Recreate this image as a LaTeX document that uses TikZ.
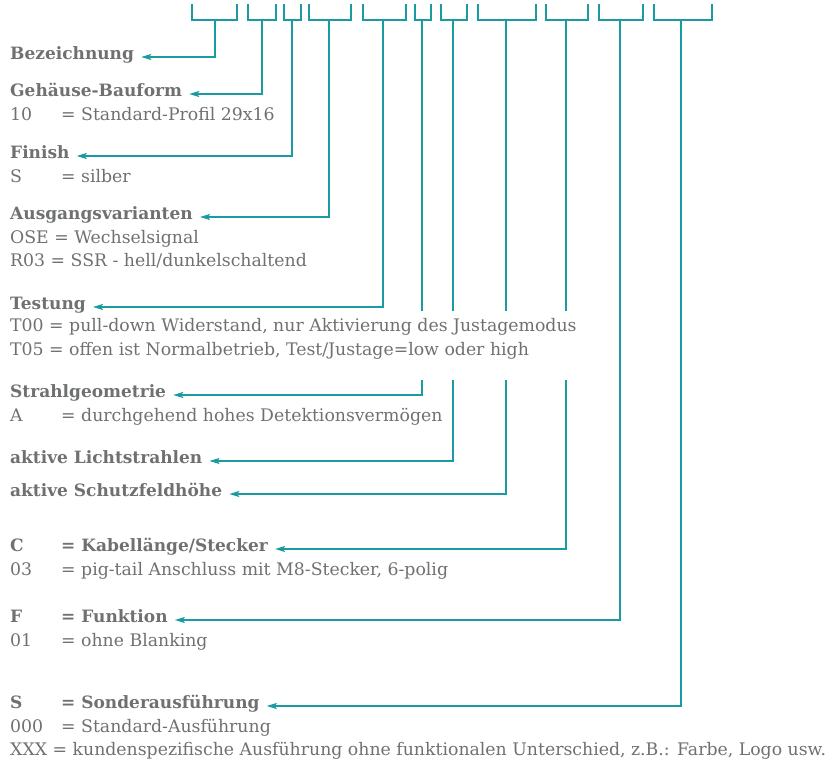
\documentclass[tikz,border=0pt]{standalone}
\usepackage{fontspec}
\setmainfont{DejaVu Serif}
\usetikzlibrary{arrows.meta}

\definecolor{linecol}{HTML}{1A9BA1}
\definecolor{textgray}{HTML}{6E7170}

\tikzset{
  bracket/.style={draw=linecol, line width=1.6pt},
  arr/.style={bracket, -{Stealth[length=10pt,width=6pt,inset=2pt]}, shorten >=7pt},
  txt/.style={anchor=west, inner sep=0pt, text=textgray, text height=1ex, text depth=0pt,
    font=\fontsize{17.3}{22}\selectfont},
  head/.style={txt, font=\fontsize{17}{22}\selectfont\bfseries},
}
\newcommand\codebox[1]{\makebox[51pt][l]{#1}}

\begin{document}
\begin{tikzpicture}[x=1pt,y=-1pt]
  \useasboundingbox (0,0) rectangle (828,765);
  % headings
  \node[head] (bez) at (10,57) {Bezeichnung};
  \node[head] (geh) at (10,94) {Gehäuse-Bauform};
  \node[head] (fin) at (10,156) {Finish};
  \node[head] (aus) at (10,217) {Ausgangsvarianten};
  \node[head] (tst) at (10,307) {Testung};
  \node[head] (str) at (10,395) {Strahlgeometrie};
  \node[head] (lic) at (10,461) {aktive Lichtstrahlen};
  \node[head] (sfh) at (10,494) {aktive Schutzfeldhöhe};
  \node[head] (kab) at (10,549) {\codebox{C}= Kabellänge/Stecker};
  \node[head] (fkt) at (10,620) {\codebox{F}= Funktion};
  \node[head] (son) at (10,706) {\codebox{S}= Sonderausführung};
  % brackets over the type code
  \foreach \l/\r/\m/\n in {192/237/215/bez, 248/276/262/geh, 284/301/292/fin,
      309/351/329/aus, 363/406/383/tst, 415/431/422/str, 441/467/453/lic,
      478/536/506/sfh, 546/588/566/kab, 599/643/620/fkt, 654/712/681/son} {
    \draw[bracket] (\l,4) |- (\r,20) -- (\r,4);
    \draw[arr] (\m,20) |- (\n.east);
  }
  % values
  \node[txt] (geh1) at (10,118) {\codebox{10}= Standard-Profil 29x16};
  \node[txt] (fin1) at (10,180) {\codebox{S}= silber};
  \node[txt] (aus1) at (10,241) {OSE = Wechselsignal};
  \node[txt] (aus2) at (10,264) {R03 = SSR - hell/dunkelschaltend};
  \fill[white] (395,311) rectangle (606,380);
  \node[txt] (tst1) at (10,329) {T00 = pull-down Widerstand, nur Aktivierung des Justagemodus};
  \node[txt] (tst2) at (10,353) {T05 = offen ist Normalbetrieb, Test/Justage=low oder high};
  \node[txt] (str1) at (10,419) {\codebox{A}= durchgehend hohes Detektionsvermögen};
  \node[txt] (kab1) at (10,573) {\codebox{03}= pig-tail Anschluss mit M8-Stecker, 6-polig};
  \node[txt] (fkt1) at (10,644) {\codebox{01}= ohne Blanking};
  \node[txt] (son1) at (10,730) {\codebox{000}= Standard-Ausführung};
  \node[txt] (son2) at (10,753) {XXX = kundenspezifische Ausführung ohne funktionalen Unterschied, z.B.: Farbe, Logo usw.};
\end{tikzpicture}
\end{document}
